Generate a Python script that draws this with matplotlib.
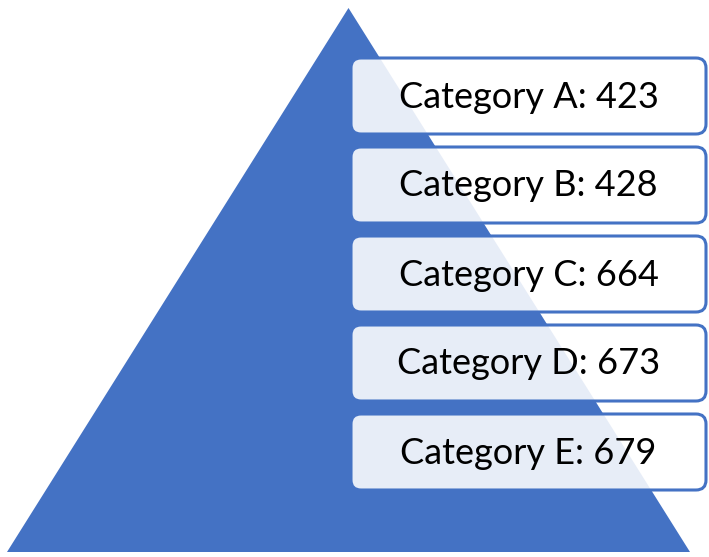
import matplotlib.pyplot as plt
from matplotlib.patches import Polygon, FancyBboxPatch

categories = ['Category A', 'Category B', 'Category C', 'Category D', 'Category E']
values = [423, 428, 664, 673, 679]

blue = '#4472C4'

fig = plt.figure(figsize=(7.09, 5.57), dpi=100)
ax = fig.add_axes([0, 0, 1, 1])
ax.set_xlim(0, 709)
ax.set_ylim(557, 0)
ax.axis('off')

# pyramid
tri = Polygon([[7, 552], [348.5, 8], [690, 552]], closed=True,
              facecolor=blue, edgecolor='none')
ax.add_patch(tri)

# list boxes
box_x = 351
box_w = 355
box_h = 76
top = 58
step = 89
for i, (cat, val) in enumerate(zip(categories, values)):
    y = top + i * step
    box = FancyBboxPatch((box_x, y), box_w, box_h,
                         boxstyle='round,pad=0,rounding_size=10',
                         facecolor='white', alpha=0.88, edgecolor='none')
    ax.add_patch(box)
    edge = FancyBboxPatch((box_x, y), box_w, box_h,
                          boxstyle='round,pad=0,rounding_size=10',
                          facecolor='none', edgecolor=blue, linewidth=2.2)
    ax.add_patch(edge)
    ax.text(box_x + box_w / 2, y + box_h / 2 + 1, f'{cat}: {val}',
            ha='center', va='center', fontsize=26, family='Lato', color='black')

fig.savefig('out.png', dpi=100)
